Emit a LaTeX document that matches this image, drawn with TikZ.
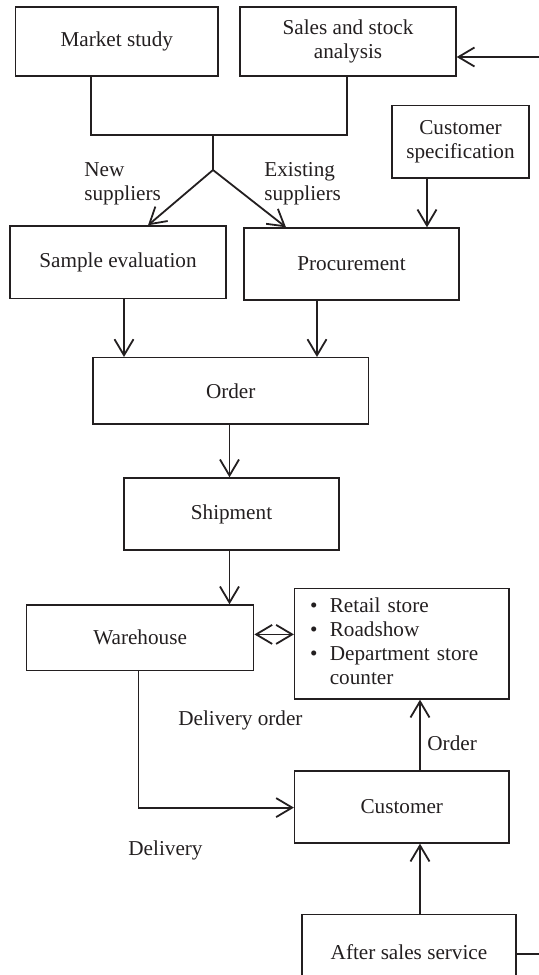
\documentclass[tikz,border=0pt]{standalone}
\usepackage{fontspec}
\setmainfont{Liberation Serif}
\usetikzlibrary{arrows.meta}
\definecolor{ink}{RGB}{35,31,32}
\begin{document}
\begin{tikzpicture}[x=0.5pt,y=-0.5pt,
  every node/.style={font=\fontsize{10.6}{12.1}\selectfont, text=ink},
  box/.style={draw=ink, line width=0.7pt, inner sep=0pt, align=center},
  lbl/.style={inner sep=0pt, align=left},
  link/.style={draw=ink, line width=0.9pt},
  >={Straight Barb[length=8pt,width=9.5pt]},
  arr/.style={link, ->}]
\useasboundingbox (0,0) rectangle (539,975);
\clip (0,0) rectangle (539,975);

% boxes
\node[box, minimum width=101.25pt, minimum height=34.5pt] (market) at (116.75,41.5) {Market study};
\node[box, minimum width=108pt, minimum height=34.5pt] (sales) at (348,41.5) {Sales and stock\\analysis};
\node[box, minimum width=68.5pt, minimum height=36.25pt] (custspec) at (460.5,141.75) {Customer\\specification};
\node[box, minimum width=108pt, minimum height=36.3pt] (sample) at (118,262.3) {Sample evaluation};
\node[box, minimum width=107.5pt, minimum height=36pt] (procure) at (351.5,264) {Procurement};
\node[box, minimum width=137.75pt, minimum height=33.15pt] (order) at (230.75,390.85) {Order};
\node[box, minimum width=107.5pt, minimum height=36pt] (shipment) at (231.5,514) {Shipment};
\node[box, minimum width=113.6pt, minimum height=32.75pt] (warehouse) at (140.1,637.75) {Warehouse};
\node[box, minimum width=107.2pt, minimum height=55.15pt, text width=91.8pt, inner xsep=7.7pt, align=left] (retail) at (401.8,643.85)
  {\begin{tabular}{@{}l@{\hspace{6.2pt}}l@{}}
   \textbullet & Retail store\\
   \textbullet & Roadshow\\
   \textbullet & Department store\\
               & counter
   \end{tabular}};
\node[box, minimum width=107.2pt, minimum height=36pt] (customer) at (401.8,807) {Customer};
\node[box, minimum width=107pt, minimum height=37.5pt] (aftersales) at (409,952) {After sales service};

% labels
\node[lbl, anchor=west] (newlbl) at (84,184) {New\\suppliers};
\node[lbl, anchor=west] (existlbl) at (264,184) {Existing\\suppliers};
\node[lbl] (dorder) at (240.4,720) {Delivery order};
\node[lbl, anchor=west] (orderlbl) at (427,743.7) {Order};
\node[lbl] (delivery) at (165.5,850) {Delivery};

% helper coordinates
\coordinate (salesin) at (539,57);
\coordinate (mJ) at (91,135);
\coordinate (sJ) at (347,135);
\coordinate (j) at (213,135);
\coordinate (fork) at (213,170);
\coordinate (tipL) at (148,0);
\coordinate (tipR) at (286,0);
\coordinate (cs) at (427,0);
\coordinate (se) at (124,0);
\coordinate (pr) at (317,0);
\coordinate (os) at (229.5,0);
\coordinate (wr) at (0,634.4);
\coordinate (wd) at (138.5,807.6);
\coordinate (cx) at (420,0);
\coordinate (asout) at (539,954);

% connectors
\draw[arr] (salesin) -- (salesin -| sales.east);
\draw[link] (mJ |- market.south) -- (mJ) -- (sJ) -- (sJ |- sales.south);
\draw[link] (j) -- (fork);
\draw[arr] (fork) -- (tipL |- sample.north);
\draw[arr] (fork) -- (tipR |- procure.north);
\draw[arr] (cs |- custspec.south) -- (cs |- procure.north);
\draw[arr] (se |- sample.south) -- (se |- order.north);
\draw[arr] (pr |- procure.south) -- (pr |- order.north);
\draw[arr] (os |- order.south) -- (os |- shipment.north);
\draw[arr] (os |- shipment.south) -- (os |- warehouse.north);
\draw[link, <->] (wr -| warehouse.east) -- (wr -| retail.west);
\draw[arr] (wd |- warehouse.south) -- (wd) -- (wd -| customer.west);
\draw[arr] (cx |- customer.north) -- (cx |- retail.south);
\draw[arr] (cx |- aftersales.north) -- (cx |- customer.south);
\draw[link] (asout -| aftersales.east) -- (asout);
\end{tikzpicture}
\end{document}
